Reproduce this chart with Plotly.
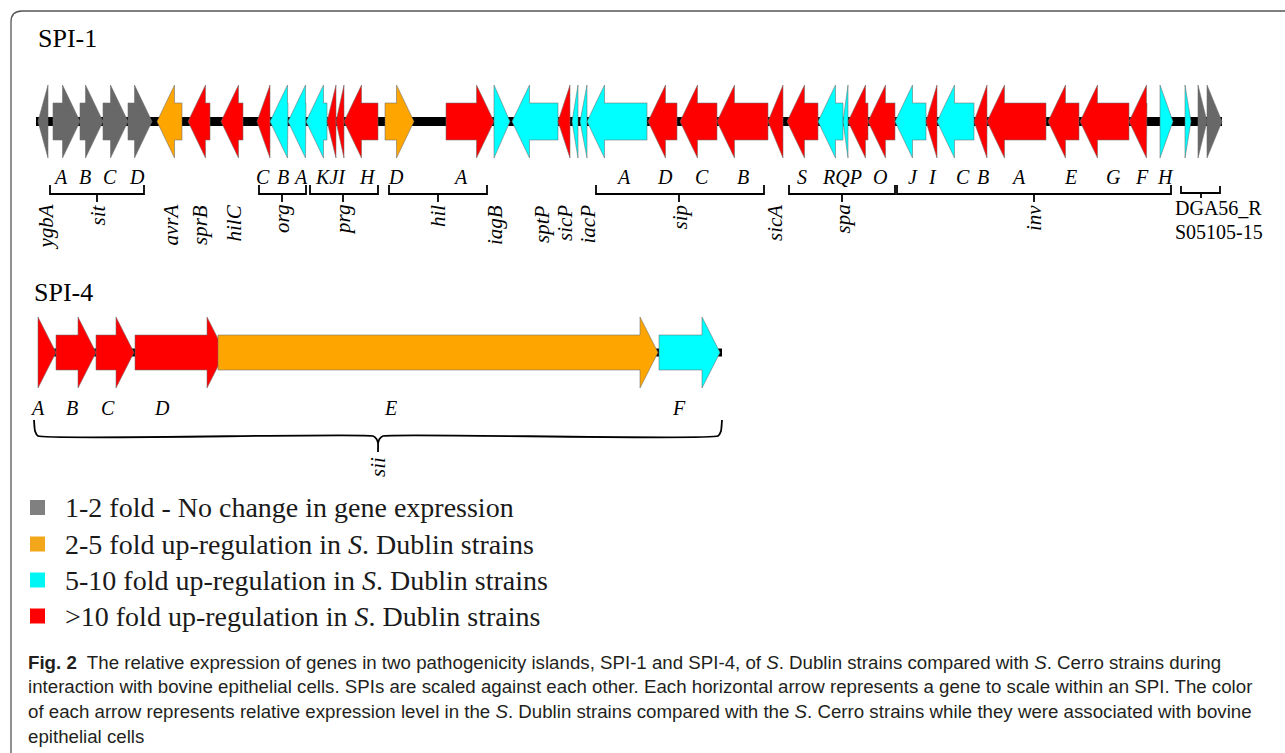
import plotly.graph_objects as go

# ---------------- data ----------------
COLORS = {"g": "#686868", "o": "#FFA500", "c": "#00FFFF", "r": "#FF0000"}
LEGEND_COLORS = ["#808080", "#F2A71B", "#00F5F5", "#FF0000"]

# SPI-1 genes: start, end, strand, colour class
spi1_start = [38, 53, 80, 103, 128, 157, 188, 221, 257, 270, 288, 306, 327, 336, 344,
              385, 446, 494, 512, 558, 572, 580, 587, 648, 680, 717, 768, 787, 818, 843,
              848, 868, 895, 926, 937, 974, 987, 1048, 1080, 1129, 1160, 1185, 1198, 1207]
spi1_end = [48, 80, 103, 128, 152, 182, 210, 243, 270, 288, 306, 327, 336, 344, 378,
            414, 494, 510, 558, 570, 578, 587, 647, 677, 717, 768, 783, 818, 843, 848,
            868, 895, 926, 937, 974, 987, 1046, 1079, 1129, 1147, 1173, 1191, 1207, 1222]
spi1_strand = [-1, 1, 1, 1, 1, -1, -1, -1, -1, -1, -1, -1, -1, -1, -1,
               1, 1, 1, -1, -1, -1, -1, -1, -1, -1, -1, -1, -1, -1, -1,
               -1, -1, -1, -1, -1, -1, -1, -1, -1, -1, 1, 1, 1, 1]
spi1_color = ["g", "g", "g", "g", "g", "o", "r", "r", "r", "c", "c", "c", "r", "r", "r",
              "o", "r", "c", "c", "r", "c", "c", "c", "r", "r", "r", "r", "r", "c", "c",
              "r", "r", "c", "r", "c", "r", "r", "r", "r", "r", "c", "c", "g", "g"]

# SPI-4 genes (siiA-F)
spi4_start = [38, 56, 96, 135, 218, 659]
spi4_end = [56, 96, 134, 225, 658, 720]
spi4_strand = [1, 1, 1, 1, 1, 1]
spi4_color = ["r", "r", "r", "r", "o", "c"]

# SPI-1 operon brackets: name, start, end, centre
spi1_groups = ["sit", "org", "prg", "hil", "sip", "spa", "inv"]
spi1_grp_start = [50, 259, 310, 389, 596, 789, 897]
spi1_grp_end = [144, 306, 378, 487, 764, 895, 1171]
spi1_grp_mid = [97, 282, 343, 438, 679, 842, 1034]

# SPI-1 gene letters under arrows
spi1_letters = ["A", "B", "C", "D", "C", "B", "A", "KJI", "H", "D", "A", "A", "D", "C", "B",
                "S", "RQP", "O", "J", "I", "C", "B", "A", "E", "G", "F", "H"]
spi1_letter_x = [60, 85, 110, 137, 263, 283, 300, 330, 367, 396, 460, 623, 665, 702, 743,
                 802, 842, 880, 913, 932, 963, 983, 1018, 1070, 1113, 1142, 1165]

# single-gene labels (rotated)
single_names = ["ygbA", "avrA", "sprB", "hilC", "iagB", "sptP", "sicP", "iacP", "sicA"]
single_x = [45, 170, 200, 233, 495, 542, 565, 587, 775]

# DGA56 locus
dga_start, dga_end, dga_mid = 1181, 1220, 1201
dga_lines = ["DGA56_R", "S05105-15"]

# SPI-4 letters
spi4_letters = ["A", "B", "C", "D", "E", "F"]
spi4_letter_x = [37, 72, 108, 162, 390, 679]
spi4_group = "sii"
spi4_grp_start, spi4_grp_end, spi4_grp_mid = 34, 722, 378

legend_labels = ["1-2 fold - No change in gene expression",
                 "2-5 fold up-regulation in <i>S</i>. Dublin strains",
                 "5-10 fold up-regulation in <i>S</i>. Dublin strains",
                 "&gt;10 fold up-regulation in <i>S</i>. Dublin strains"]

caption_lines = [
    "<b>Fig. 2</b>  The relative expression of genes in two pathogenicity islands, SPI-1 and SPI-4, of <i>S</i>. Dublin strains compared with <i>S</i>. Cerro strains during",
    "interaction with bovine epithelial cells. SPIs are scaled against each other. Each horizontal arrow represents a gene to scale within an SPI. The color",
    "of each arrow represents relative expression level in the <i>S</i>. Dublin strains compared with the <i>S</i>. Cerro strains while they were associated with bovine",
    "epithelial cells",
]

# ---------------- layout params ----------------
W, H = 1285, 753
SERIF = "Liberation Serif, Times New Roman, serif"
SANS = "Liberation Sans, Arial, sans-serif"

fig = go.Figure()


def arrow_xy(s, e, strand, c, bh, hh, hl):
    L = min(hl, e - s)
    if strand > 0:
        hb = e - L
        xs = [s, hb, hb, e, hb, hb, s, s]
    else:
        hb = s + L
        xs = [e, hb, hb, s, hb, hb, e, e]
    ys = [c - bh, c - bh, c - hh, c, c + hh, c + bh, c + bh, c - bh]
    return xs, ys


def add_track(starts, ends, strands, cols, c, bh, hh, hl, bb_from, bb_to, bb_w):
    fig.add_trace(go.Scatter(x=[bb_from, bb_to], y=[c, c], mode="lines",
                             line=dict(color="black", width=bb_w), hoverinfo="skip"))
    for s, e, st, col in zip(starts, ends, strands, cols):
        xs, ys = arrow_xy(s, e, st, c, bh, hh, hl)
        fig.add_trace(go.Scatter(x=xs, y=ys, mode="lines", fill="toself",
                                 fillcolor=COLORS[col],
                                 line=dict(color="rgba(110,110,110,0.8)", width=0.7),
                                 hoverinfo="skip"))


add_track(spi1_start, spi1_end, spi1_strand, spi1_color, 121.5, 18.5, 36.5, 17.5, 36, 1222, 9)
add_track(spi4_start, spi4_end, spi4_strand, spi4_color, 352.5, 17.5, 35.5, 18, 38, 722, 8)


def square_bracket(s, e, m, y0=185, y1=194, y2=202):
    xs = [s, s, e, e, None, m, m]
    ys = [y0, y1, y1, y0, None, y1, y2]
    fig.add_trace(go.Scatter(x=xs, y=ys, mode="lines",
                             line=dict(color="black", width=1.8), hoverinfo="skip"))


for s, e, m in zip(spi1_grp_start, spi1_grp_end, spi1_grp_mid):
    square_bracket(s, e, m)
square_bracket(dga_start, dga_end, dga_mid, 186, 193, 198)

# curly brace for SPI-4
yb_top, yb, yb_tip = 420, 436, 452
xs = [spi4_grp_start, spi4_grp_start + 1, spi4_grp_start + 4, spi4_grp_mid - 5,
      spi4_grp_mid - 1.5, spi4_grp_mid, spi4_grp_mid, None,
      spi4_grp_mid, spi4_grp_mid + 1.5, spi4_grp_mid + 5, spi4_grp_end - 4,
      spi4_grp_end - 1, spi4_grp_end]
ys = [yb_top, yb - 5, yb, yb, yb + 3, yb + 7, yb_tip, None,
      yb + 7, yb + 3, yb, yb, yb - 5, yb_top]
fig.add_trace(go.Scatter(x=xs, y=ys, mode="lines",
                         line=dict(color="black", width=1.8, shape="spline", smoothing=0.4),
                         hoverinfo="skip"))

ann = []
LBL = 20
for t, x in zip(spi1_letters, spi1_letter_x):
    ann.append(dict(x=x, y=177, text=f"<i>{t}</i>", showarrow=False,
                    font=dict(family=SERIF, size=LBL, color="black"),
                    xanchor="center", yanchor="middle"))
for t, x in zip(spi1_groups + single_names, spi1_grp_mid + single_x):
    ann.append(dict(x=x, y=203, text=f"<i>{t}</i>", showarrow=False, textangle=-90,
                    font=dict(family=SERIF, size=21, color="black"),
                    xanchor="center", yanchor="top"))
for i, t in enumerate(dga_lines):
    ann.append(dict(x=dga_start - 8, y=208 + 24 * i, text=t, showarrow=False,
                    font=dict(family=SERIF, size=20, color="black"),
                    xanchor="left", yanchor="middle"))
for t, x in zip(spi4_letters, spi4_letter_x):
    ann.append(dict(x=x, y=408, text=f"<i>{t}</i>", showarrow=False,
                    font=dict(family=SERIF, size=LBL, color="black"),
                    xanchor="center", yanchor="middle"))
ann.append(dict(x=spi4_grp_mid, y=455, text=f"<i>{spi4_group}</i>", showarrow=False,
                textangle=-90, font=dict(family=SERIF, size=21, color="black"),
                xanchor="center", yanchor="top"))

ann.append(dict(x=36, y=38, text="SPI-1", showarrow=False,
                font=dict(family=SERIF, size=26, color="black"), xanchor="left", yanchor="middle"))
ann.append(dict(x=32, y=292, text="SPI-4", showarrow=False,
                font=dict(family=SERIF, size=26, color="black"), xanchor="left", yanchor="middle"))

# legend
leg_y = [507.5, 544, 580, 616]
fig.add_trace(go.Scatter(x=[37.5] * 4, y=leg_y, mode="markers",
                         marker=dict(symbol="square", size=15, color=LEGEND_COLORS,
                                     line=dict(width=0)), hoverinfo="skip"))
for t, y in zip(legend_labels, leg_y):
    ann.append(dict(x=63, y=y, text=t, showarrow=False,
                    font=dict(family=SERIF, size=28, color="#1a1a1a"),
                    xanchor="left", yanchor="middle"))

# caption
for i, t in enumerate(caption_lines):
    ann.append(dict(x=26, y=662 + 24.8 * i, text=t, showarrow=False,
                    font=dict(family=SANS, size=18.7, color="#231f20"),
                    xanchor="left", yanchor="middle"))

# frame with rounded corner
r = 11
frame = dict(type="path", xref="x", yref="y",
             path=f"M 11 {H} L 11 {11 + r} Q 11 11 {11 + r} 11 L {W} 11",
             line=dict(color="#555555", width=1.3))

fig.update_layout(
    width=W, height=H, margin=dict(l=0, r=0, t=0, b=0),
    paper_bgcolor="white", plot_bgcolor="white", showlegend=False,
    xaxis=dict(range=[0, W], visible=False, fixedrange=True),
    yaxis=dict(range=[H, 0], visible=False, fixedrange=True),
    annotations=ann, shapes=[frame],
)
fig.write_html("out.html", config=dict(displayModeBar=False),
               post_script="document.body.style.margin='0';")
